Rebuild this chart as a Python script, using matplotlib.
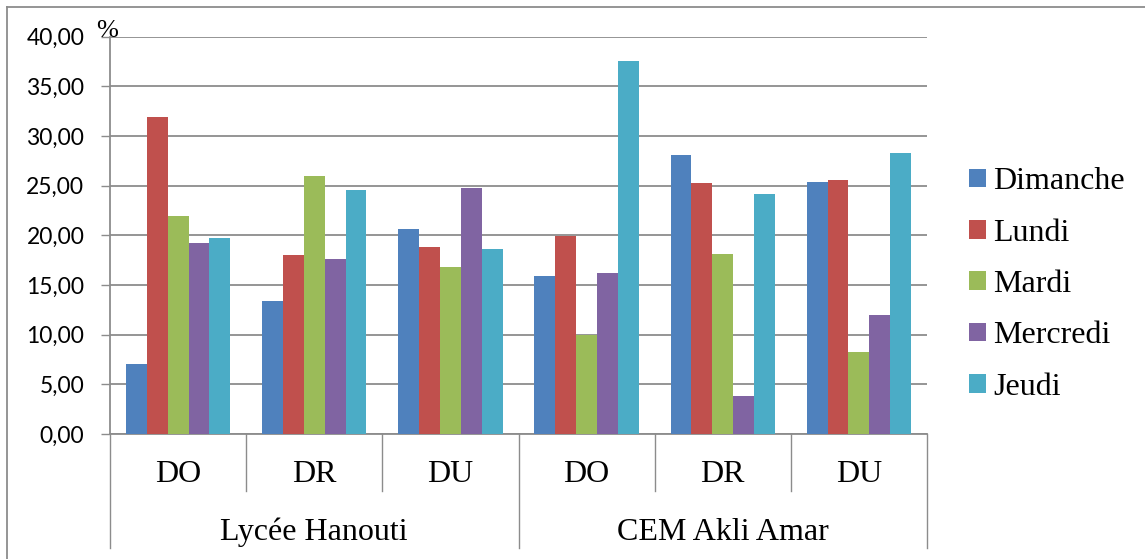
#!/usr/bin/env python3

import numpy as np
import matplotlib.pyplot as plt
from matplotlib.lines import Line2D
from matplotlib.transforms import blended_transform_factory

# sub-categories (bottom row) and schools (second row)
sub_labels = ['DO', 'DR', 'DU', 'DO', 'DR', 'DU']
group_labels = ['Lycée Hanouti', 'CEM Akli Amar']

days = ['Dimanche', 'Lundi', 'Mardi', 'Mercredi', 'Jeudi']
dimanche = [7.0, 13.4, 20.6, 15.9, 28.1, 25.4]
lundi = [31.9, 18.0, 18.8, 19.9, 25.3, 25.6]
mardi = [21.9, 26.0, 16.8, 10.0, 18.1, 8.3]
mercredi = [19.2, 17.6, 24.8, 16.2, 3.8, 12.0]
jeudi = [19.7, 24.6, 18.6, 37.6, 24.2, 28.3]

colors = ['#4F81BD', '#C0504D', '#9BBB59', '#8064A2', '#4BACC6']
GRID = '#8c8c8c'
SERIF = 'Liberation Serif'

W, H = 1145, 559
fig = plt.figure(figsize=(W / 100, H / 100), dpi=100)
ax = fig.add_axes([110 / W, (H - 434) / H, 817 / W, 397.3 / H])

x = np.arange(len(sub_labels))
bw = 0.153
series = [dimanche, lundi, mardi, mercredi, jeudi]
for i, (vals, name) in enumerate(zip(series, days)):
    ax.bar(x + (i - 2) * bw, vals, width=bw, color=colors[i], label=name,
           zorder=3)

ax.set_xlim(-0.5, len(sub_labels) - 0.5)
ax.set_ylim(0, 40)
ax.set_yticks(np.arange(0, 40.1, 5))
ax.set_yticklabels([f'{v:.2f}'.replace('.', ',') for v in np.arange(0, 40.1, 5)],
                   fontfamily='Lato', fontsize=16.5)
ax.set_xticks([])
ax.tick_params(axis='y', length=6.5, color=GRID, width=1, pad=12)

ax.grid(axis='y', color=GRID, linewidth=1.3, zorder=0)
ax.set_axisbelow(True)
for s in ['top', 'right']:
    ax.spines[s].set_visible(False)
for s in ['left', 'bottom']:
    ax.spines[s].set_color(GRID)
    ax.spines[s].set_linewidth(1.3)

# multi-level category axis
tr = blended_transform_factory(ax.transData, ax.transAxes)
for xs in np.arange(-0.5, len(sub_labels), 1.0):
    long_line = xs in (-0.5, 2.5, 5.5)
    y_end = -0.287 if long_line else -0.1435
    ax.add_line(Line2D([xs, xs], [0, y_end], transform=tr, color=GRID,
                       linewidth=1.0, clip_on=False))
for xi, lab in zip(x, sub_labels):
    ax.text(xi, -0.103, lab, transform=tr, ha='center', va='center',
            fontfamily=SERIF, fontsize=23)
for gi, lab in enumerate(group_labels):
    ax.text(gi * 3 + 1, -0.247, lab, transform=tr, ha='center', va='center',
            fontfamily=SERIF, fontsize=23)

ax.text(-0.004, 1.014, '%', transform=ax.transAxes, ha='center',
        va='center', fontfamily=SERIF, fontsize=19)

ax.legend(loc='center left', bbox_to_anchor=(969 / W, (H - 284.5) / H),
          bbox_transform=fig.transFigure, frameon=False, borderpad=0,
          borderaxespad=0, handlelength=0.53, handleheight=0.53,
          handletextpad=0.22, labelspacing=0.70,
          prop={'family': SERIF, 'size': 23})

# outer chart border (only left and top are visible)
fig.add_artist(Line2D([7 / W, 7 / W], [0, 1 - 7 / H], transform=fig.transFigure,
                      color=GRID, linewidth=1.3))
fig.add_artist(Line2D([7 / W, 1], [1 - 7 / H, 1 - 7 / H],
                      transform=fig.transFigure, color=GRID, linewidth=1.3))

fig.savefig('out.png', dpi=100)
